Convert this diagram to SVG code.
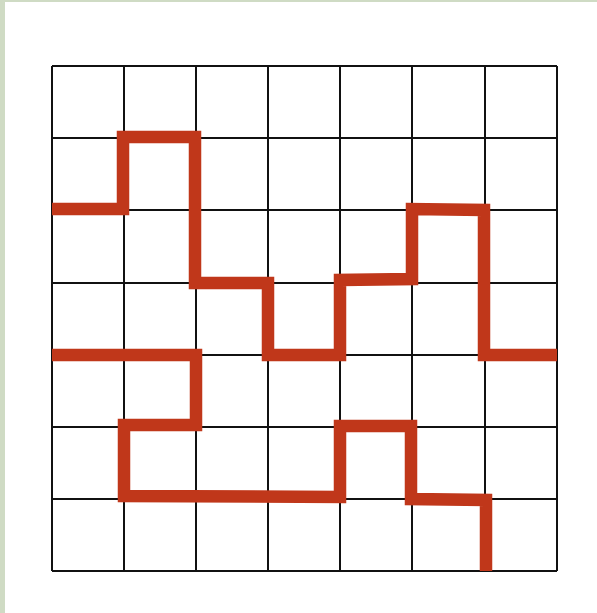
<svg xmlns="http://www.w3.org/2000/svg" width="597" height="613" viewBox="0 0 597 613">
<style>
.grid{stroke:#111;stroke-width:2;fill:none}
.route{stroke:#c0371a;stroke-width:12.5;fill:none;stroke-linejoin:miter;stroke-linecap:butt}
</style>
<rect x="0" y="0" width="597" height="613" fill="#ffffff"/>
<rect x="0" y="0" width="597" height="2" fill="#cfdbc4"/>
<rect x="0" y="0" width="5" height="613" fill="#cfdbc4"/>
<g id="grid" class="grid">
<path d="M52 66V571M124 66V571M196 66V571M268 66V571M340 66V571M412 66V571M485 66V571M557 66V571"/>
<path d="M52 66H557M52 138H557M52 210H557M52 283H557M52 355H557M52 427H557M52 499H557M52 571H557"/>
</g>
<g id="connectors">
<path class="route" d="M52 209H123V137H195V283H268V355H340V280L412 279V209L484 210V355H557"/>
<path class="route" d="M52 355H196V425H124V496L340 497V426H411V499L486 500V571"/>
</g>
</svg>
